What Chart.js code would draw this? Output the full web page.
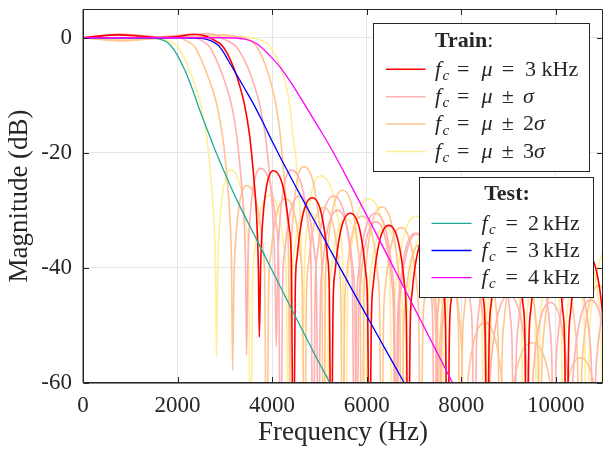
<!DOCTYPE html>
<html><head><meta charset="utf-8">
<script src="https://cdn.jsdelivr.net/npm/chart.js@4.4.1/dist/chart.umd.min.js"></script>
<style>html,body{margin:0;padding:0;background:#fff;}#wrap{width:603px;height:449px;position:relative;}</style>
</head><body><div id="wrap"><canvas id="c" width="603" height="449"></canvas></div>
<script>
// ---------- axis ticks ----------
const freqTicks = [0, 2000, 4000, 6000, 8000, 10000];
const freqTickLabels = ['0', '2000', '4000', '6000', '8000', '10000'];
const magTicks = [-60, -40, -20, 0];
const magTickLabels = ['-60', '-40', '-20', '0'];

// ---------- test filters [Hz, dB] ----------
const test2k = [[0,0],[1000,0],[1400,-0.05],[1600,-0.2],[1750,-0.6],[1850,-1.3],[1980,-2.8],[2100,-4.7],[2190,-6.3],[2330,-9.3],[2470,-12.6],[2610,-15.6],[2755,-18.7],[2900,-21.6],[3040,-24.3],[3180,-26.9],[3320,-29.3],[3600,-33.9],[3870,-38.3],[4200,-43.7],[4590,-50],[4900,-55],[5225,-60],[5400,-62.7]];
const test3k = [[0,0],[2000,0],[2500,-0.1],[2700,-0.5],[2860,-1.3],[2970,-2.5],[3070,-3.9],[3200,-5.7],[3320,-7.4],[3460,-9.4],[3600,-11.4],[3800,-14.6],[3990,-17.8],[4200,-21.2],[4450,-25.1],[4800,-30.4],[5225,-36.8],[5700,-43.9],[6000,-48.3],[6400,-54.2],[6770,-59.6],[6900,-61.5]];
const test4k = [[0,0],[3000,0],[3400,-0.2],[3670,-1.0],[3950,-3.1],[4170,-5.1],[4400,-7.8],[4600,-10.4],[4800,-13.1],[5000,-15.8],[5225,-18.9],[5400,-21.5],[5600,-24.6],[6074,-32],[6530,-39.3],[7200,-50],[7800,-59.7],[7900,-61.3]];

// ---------- train filters [Hz, dB] ----------
const trainMu = [[0,0],[300,0.25],[750,0.5],[1200,0.3],[1600,0.05],[1950,0.15],[2350,0.6],[2600,0.3],[2700,-0.1],[2966,-1.6],[3178,-5],[3320,-8.5],[3426,-12],[3525,-17],[3565,-20],[3620,-25],[3665,-30],[3710,-40],[3730,-52],
[3759,-39.2],[3789,-33.3],[3877,-26.1],[4025,-23.1],[4238,-26.1],[4365,-33.3],[4408,-39.2],[4450,-80],
[4490,-43.9],[4530,-38],[4650,-30.8],[4850,-27.8],[5050,-30.8],[5170,-38],[5210,-43.9],[5250,-80],
[5290,-46.6],[5331,-40.7],[5452,-33.5],[5655,-30.5],[5858,-33.5],[5979,-40.7],[6020,-46.6],[6060,-80],
[6101,-48.7],[6142,-42.8],[6265,-35.6],[6470,-32.6],[6675,-35.6],[6798,-42.8],[6839,-48.7],[6880,-80],
[6922,-50.1],[6963,-44.2],[7088,-37],[7295,-34],[7502,-37],[7627,-44.2],[7668,-50.1],[7710,-80],
[7752,-51.1],[7794,-45.2],[7920,-38],[8130,-35],[8340,-38],[8466,-45.2],[8508,-51.1],[8550,-80],
[8592,-52.1],[8634,-46.2],[8760,-39],[8970,-36],[9180,-39],[9306,-46.2],[9348,-52.1],[9390,-80],
[9432,-53.1],[9474,-47.2],[9600,-40],[9810,-37],[10020,-40],[10146,-47.2],[10188,-53.1],[10230,-80],
[10272,-53.6],[10314,-47.7],[10440,-40.5],[10650,-37.5],[10860,-40.5],[10986,-47.7],[11028,-53.6],[11070,-80]];

const trainMinus1 = [[0,0],[300,0.3],[750,0.6],[1200,0.35],[1550,0],[1800,0.2],[2150,0.5],[2350,0.2],[2420,-0.1],[2680,-1.6],[2880,-5],[3035,-8.5],[3150,-12],[3252,-17],[3293,-20],[3350,-25],[3395,-30],[3440,-40],[3460,-55.2],
[3489,-38.8],[3519,-32.9],[3607,-25.7],[3755,-22.7],[3968,-25.7],[4095,-32.9],[4138,-38.8],[4180,-80],
[4220,-43.6],[4260,-37.7],[4380,-30.5],[4580,-27.5],[4780,-30.5],[4900,-37.7],[4940,-43.6],[4980,-80],
[5020,-46.1],[5061,-40.2],[5182,-33],[5385,-30],[5588,-33],[5709,-40.2],[5750,-46.1],[5790,-80],
[5831,-48.1],[5872,-42.2],[5995,-35],[6200,-32],[6405,-35],[6528,-42.2],[6569,-48.1],[6610,-80],
[6652,-50.1],[6693,-44.2],[6818,-37],[7025,-34],[7232,-37],[7357,-44.2],[7398,-50.1],[7440,-80],
[7482,-52.1],[7524,-46.2],[7650,-39],[7860,-36],[8070,-39],[8196,-46.2],[8238,-52.1],[8280,-80],
[8322,-54.1],[8364,-48.2],[8490,-41],[8700,-38],[8910,-41],[9036,-48.2],[9078,-54.1],[9120,-80],
[9162,-56.1],[9204,-50.2],[9330,-43],[9540,-40],[9750,-43],[9876,-50.2],[9918,-56.1],[9960,-80],
[10002,-58.1],[10044,-52.2],[10170,-45],[10380,-42],[10590,-45],[10716,-52.2],[10758,-58.1],[10800,-80],
[10842,-60.1],[10884,-54.2],[11010,-47]];

const trainPlus1 = [[0,0],[330,0.3],[820,0.6],[1310,0.35],[1750,0.05],[2130,0.2],[2650,0.75],[2850,0.35],[2950,-0.1],[3245,-1.6],[3477,-5],[3632,-8.5],[3748,-12],[3856,-17],[3900,-20],[3960,-25],[4010,-30],[4059,-40],[4090,-53.6],
[4121,-39.1],[4153,-33.2],[4246,-26],[4403,-23],[4636,-26],[4775,-33.2],[4822,-39.1],[4868,-80],
[4912,-43.6],[4956,-37.7],[5087,-30.5],[5306,-27.5],[5525,-30.5],[5656,-37.7],[5700,-43.6],[5744,-80],
[5788,-46.6],[5833,-40.7],[5965,-33.5],[6187,-30.5],[6409,-33.5],[6541,-40.7],[6586,-46.6],[6630,-80],
[6675,-50.1],[6720,-44.2],[6854,-37],[7078,-34],[7302,-37],[7436,-44.2],[7481,-50.1],[7527,-80],
[7579,-54.1],[7630,-48.2],[7785,-41],[8043,-38],[8301,-41],[8456,-48.2],[8507,-54.1],[8560,-80],
[8605,-60.9],[8650,-55],[8785,-47.8],[9010,-44.8],[9235,-47.8],[9370,-55],[9415,-60.9],[9460,-80],
[9502,-62.1],[9545,-56.2],[9672,-49],[9885,-46],[10098,-49],[10225,-56.2],[10268,-62.1],[10310,-80],
[10353,-61.7],[10396,-55.8],[10525,-48.6],[10740,-45.6],[10955,-48.6],[11084,-55.8]];

const trainMinus2 = [[0,0],[350,-0.25],[800,-0.5],[1250,-0.25],[1600,0.05],[1850,0.3],[2050,0.1],[2150,-0.4],[2370,-1.6],[2560,-5],[2720,-8.5],[2840,-12],[2950,-17],[2996,-20],[3053,-25],[3098,-30],[3143,-40],[3165,-57.8],
[3194,-41.8],[3224,-35.9],[3312,-28.7],[3460,-25.7],[3673,-28.7],[3800,-35.9],[3843,-41.8],[3885,-80],
[3925,-44.1],[3965,-38.2],[4085,-31],[4285,-28],[4485,-31],[4605,-38.2],[4645,-44.1],[4685,-80],
[4725,-45.6],[4766,-39.7],[4887,-32.5],[5090,-29.5],[5293,-32.5],[5414,-39.7],[5455,-45.6],[5495,-80],
[5536,-47.1],[5577,-41.2],[5700,-34],[5905,-31],[6110,-34],[6233,-41.2],[6274,-47.1],[6315,-80],
[6357,-49.1],[6398,-43.2],[6523,-36],[6730,-33],[6937,-36],[7062,-43.2],[7103,-49.1],[7145,-80],
[7187,-51.1],[7229,-45.2],[7355,-38],[7565,-35],[7775,-38],[7901,-45.2],[7943,-51.1],[7985,-80],
[8027,-53.1],[8069,-47.2],[8195,-40],[8405,-37],[8615,-40],[8741,-47.2],[8783,-53.1],[8825,-80],
[8867,-55.1],[8909,-49.2],[9035,-42],[9245,-39],[9455,-42],[9581,-49.2],[9623,-55.1],[9665,-80],
[9707,-57.1],[9749,-51.2],[9875,-44],[10085,-41],[10295,-44],[10421,-51.2],[10463,-57.1],[10505,-80],
[10547,-59.1],[10589,-53.2],[10715,-46],[10925,-43],[11135,-46]];

const trainPlus2 = [[0,0],[350,-0.25],[850,-0.5],[1350,-0.25],[1800,0],[2300,0.15],[2950,0.5],[3250,0.2],[3450,-0.1],[3680,-1.6],[3870,-5],[3995,-8.5],[4090,-12],[4175,-17],[4210,-20],[4262,-25],[4305,-30],[4350,-40],[4370,-62],
[4399,-38.5],[4429,-32.6],[4517,-25.4],[4665,-22.4],[4878,-25.4],[5005,-32.6],[5048,-38.5],[5090,-80],
[5130,-42.6],[5171,-36.7],[5292,-29.5],[5495,-26.5],[5698,-29.5],[5819,-36.7],[5860,-42.6],[5900,-80],
[5942,-45.5],[5984,-39.6],[6110,-32.4],[6320,-29.4],[6530,-32.4],[6656,-39.6],[6698,-45.5],[6740,-80],
[6778,-52.1],[6816,-46.2],[6930,-39],[7120,-36],[7310,-39],[7424,-46.2],[7462,-52.1],[7500,-80],
[7527,-58.1],[7555,-52.2],[7637,-45],[7775,-42],[7913,-45],[7995,-52.2],[8023,-58.1],[8050,-80],
[8095,-65.6],[8140,-59.7],[8275,-52.5],[8500,-49.5],[8725,-52.5],[8860,-59.7],[8905,-65.6],[8950,-80],
[9005,-69.1],[9060,-63.2],[9225,-56],[9500,-53],[9775,-56],[9940,-63.2],[9995,-69.1],[10050,-80],
[10098,-71.7],[10145,-65.8],[10287,-58.6],[10525,-55.6],[10763,-58.6],[10905,-65.8],[10953,-71.7],[11000,-80]];

const trainMinus3 = [[0,0],[350,-0.2],[800,-0.4],[1250,-0.1],[1500,0.05],[1650,-0.05],[1800,-0.5],[2010,-1.6],[2220,-5],[2380,-8.5],[2500,-12],[2610,-17],[2655,-20],[2712,-25],[2757,-30],[2803,-40],[2825,-55.5],
[2854,-39.1],[2884,-33.2],[2972,-26],[3120,-23],[3333,-26],[3460,-33.2],[3503,-39.1],[3545,-80],
[3585,-43.5],[3625,-37.6],[3745,-30.4],[3945,-27.4],[4145,-30.4],[4265,-37.6],[4305,-43.5],[4345,-80],
[4385,-46.1],[4426,-40.2],[4547,-33],[4750,-30],[4953,-33],[5074,-40.2],[5115,-46.1],[5155,-80],
[5196,-47.6],[5237,-41.7],[5360,-34.5],[5565,-31.5],[5770,-34.5],[5893,-41.7],[5934,-47.6],[5975,-80],
[6017,-49.1],[6058,-43.2],[6183,-36],[6390,-33],[6597,-36],[6722,-43.2],[6763,-49.1],[6805,-80],
[6847,-50.1],[6889,-44.2],[7015,-37],[7225,-34],[7435,-37],[7561,-44.2],[7603,-50.1],[7645,-80],
[7687,-51.1],[7729,-45.2],[7855,-38],[8065,-35],[8275,-38],[8401,-45.2],[8443,-51.1],[8485,-80],
[8527,-52.1],[8569,-46.2],[8695,-39],[8905,-36],[9115,-39],[9241,-46.2],[9283,-52.1],[9325,-80],
[9367,-52.6],[9409,-46.7],[9535,-39.5],[9745,-36.5],[9955,-39.5],[10081,-46.7],[10123,-52.6],[10165,-80],
[10207,-53.1],[10249,-47.2],[10375,-40],[10585,-37],[10795,-40],[10921,-47.2],[10963,-53.1],[11005,-80]];

const trainPlus3 = [[0,0],[375,-0.2],[935,-0.35],[1500,-0.15],[2000,0.05],[2430,0.1],[2930,0.3],[3300,0.15],[3600,-0.1],[3900,-1],[4100,-3.5],[4200,-5.5],[4300,-8.5],[4380,-12],[4440,-17],[4490,-20],[4545,-25],[4590,-30],[4625,-40],[4650,-58.6],
[4687,-40.1],[4724,-34.2],[4834,-27],[5019,-24],[5284,-27],[5443,-34.2],[5496,-40.1],[5549,-80],
[5599,-44.1],[5649,-38.2],[5798,-31],[6048,-28],[6298,-31],[6447,-38.2],[6497,-44.1],[6547,-80],
[6597,-47.1],[6648,-41.2],[6799,-34],[7052,-31],[7305,-34],[7456,-41.2],[7507,-47.1],[7557,-80],
[7607,-49.1],[7658,-43.2],[7812,-36],[8068,-33],[8324,-36],[8478,-43.2],[8529,-49.1],[8580,-80],
[8631,-50.1],[8683,-44.2],[8838,-37],[9097,-34],[9356,-37],[9511,-44.2],[9563,-50.1],[9615,-80],
[9666,-51.1],[9719,-45.2],[9876,-38],[10138,-35],[10400,-38],[10557,-45.2],[10610,-51.1],[10662,-80],
[10714,-52.1],[10766,-46.2],[10920,-39],[11180,-36]];

// ---------- styles ----------
const RED = '#ff0000', PINK = '#ffb0b0', ORANGE = '#ffc690', YELLOW = '#ffef98';
const TEAL = '#20a99b', BLUE = '#0000ff', MAGENTA = '#ff00ff';
const AXIS = '#262626', GRID = '#e6e6e6';
const SERIF = '"Liberation Serif", "Times New Roman", serif';

const series = [
  {label:'μ+3σ', data:trainPlus3, color:YELLOW, w:1.6, order:9},
  {label:'μ-3σ', data:trainMinus3, color:YELLOW, w:1.6, order:9},
  {label:'μ+2σ', data:trainPlus2, color:ORANGE, w:1.6, order:8},
  {label:'μ-2σ', data:trainMinus2, color:ORANGE, w:1.6, order:8},
  {label:'μ+σ', data:trainPlus1, color:PINK, w:1.6, order:7},
  {label:'μ-σ', data:trainMinus1, color:PINK, w:1.6, order:7},
  {label:'μ', data:trainMu, color:RED, w:1.6, order:6},
  {label:'2 kHz', data:test2k, color:TEAL, w:1.3, order:3},
  {label:'3 kHz', data:test3k, color:BLUE, w:1.3, order:2},
  {label:'4 kHz', data:test4k, color:MAGENTA, w:1.3, order:1}
];

// legend contents: [text, style, dx]
const trainLegendTitle = 'Train';
const testLegendTitle = 'Test:';
const trainLegendRows = [
  {color:RED, w:1.6, parts:[['f','it',0],['c','sub',7.5],['=','rm',22],['μ','it',46.5],['=','rm',66.7],['3','rm',90],['kHz','rm',106.5]]},
  {color:PINK, w:1.6, parts:[['f','it',0],['c','sub',7.5],['=','rm',22],['μ','it',46.5],['±','rm',66.7],['σ','it',88]]},
  {color:ORANGE, w:1.6, parts:[['f','it',0],['c','sub',7.5],['=','rm',22],['μ','it',46.5],['±','rm',66.7],['2','rm',88],['σ','it',99]]},
  {color:YELLOW, w:1.6, parts:[['f','it',0],['c','sub',7.5],['=','rm',22],['μ','it',46.5],['±','rm',66.7],['3','rm',88],['σ','it',99]]}
];
const testLegendRows = [
  {color:TEAL, w:1.3, parts:[['f','it',0],['c','sub',7.5],['=','rm',24],['2','rm',46.6],['kHz','rm',61.6]]},
  {color:BLUE, w:1.3, parts:[['f','it',0],['c','sub',7.5],['=','rm',24],['3','rm',46.6],['kHz','rm',61.6]]},
  {color:MAGENTA, w:1.3, parts:[['f','it',0],['c','sub',7.5],['=','rm',24],['4','rm',46.6],['kHz','rm',61.6]]}
];

function fontFor(style){
  if (style === 'it') return 'italic 22px ' + SERIF;
  if (style === 'sub') return 'italic 15px ' + SERIF;
  if (style === 'bf') return 'bold 22px ' + SERIF;
  return '22px ' + SERIF;
}
function drawRow(ctx, x0, baseline, parts){
  ctx.fillStyle = AXIS;
  ctx.textAlign = 'left';
  ctx.textBaseline = 'alphabetic';
  for (const [t, s, dx] of parts){
    ctx.font = fontFor(s);
    ctx.fillText(t, x0 + dx, baseline + (s === 'sub' ? 4.5 : 0));
  }
}
function drawBox(ctx, x1, y1, x2, y2){
  ctx.fillStyle = '#ffffff';
  ctx.fillRect(x1, y1, x2 - x1, y2 - y1);
  ctx.strokeStyle = AXIS;
  ctx.lineWidth = 1;
  ctx.strokeRect(Math.round(x1) + 0.5, Math.round(y1) + 0.5, Math.round(x2 - x1), Math.round(y2 - y1));
}

const framePlugin = {
  id: 'frame',
  afterDatasetsDraw(chart){
    const ctx = chart.ctx, a = chart.chartArea;
    const xs = chart.scales.x, ys = chart.scales.y;
    ctx.save();
    ctx.strokeStyle = AXIS; ctx.lineWidth = 1;
    const L = Math.round(a.left) + 0.5, R = Math.round(a.right) - 0.5, T = Math.round(a.top) + 0.5, B = Math.round(a.bottom) - 0.5;
    ctx.beginPath();
    ctx.rect(L, T, R - L, B - T);
    const tl = 5.5;
    for (const v of freqTicks){
      const px = Math.round(xs.getPixelForValue(v)) + 0.5;
      ctx.moveTo(px, B); ctx.lineTo(px, B - tl);
      ctx.moveTo(px, T); ctx.lineTo(px, T + tl);
    }
    for (const v of magTicks){
      const py = Math.round(ys.getPixelForValue(v)) + 0.5;
      ctx.moveTo(L, py); ctx.lineTo(L + tl, py);
      ctx.moveTo(R, py); ctx.lineTo(R - tl, py);
    }
    ctx.stroke();
    ctx.beginPath(); ctx.lineWidth = 1.4; ctx.moveTo(L, B + 0.3); ctx.lineTo(R, B + 0.3); ctx.moveTo(L - 0.3, T); ctx.lineTo(L - 0.3, B); ctx.stroke();

    // Train legend
    drawBox(ctx, 373, 23, 589, 171);
    ctx.fillStyle = AXIS; ctx.textBaseline = 'alphabetic'; ctx.textAlign = 'left';
    ctx.font = fontFor('bf');
    ctx.fillText(trainLegendTitle, 435, 46.5);
    const tw = ctx.measureText(trainLegendTitle).width;
    ctx.font = fontFor('rm');
    ctx.fillText(':', 435 + tw, 46.5);
    const trainY = [69.3, 96.7, 124, 151.5];
    trainLegendRows.forEach((r, i) => {
      ctx.strokeStyle = r.color; ctx.lineWidth = r.w;
      ctx.beginPath(); ctx.moveTo(386, trainY[i]); ctx.lineTo(425.5, trainY[i]); ctx.stroke();
      drawRow(ctx, 435, trainY[i] + 6.2, r.parts);
    });
    // Test legend
    drawBox(ctx, 419, 177, 593, 297);
    ctx.fillStyle = AXIS; ctx.font = fontFor('bf'); ctx.textAlign = 'center';
    ctx.fillText(testLegendTitle, 507, 200);
    const testY = [223.3, 250.5, 277.7];
    testLegendRows.forEach((r, i) => {
      ctx.strokeStyle = r.color; ctx.lineWidth = r.w;
      ctx.beginPath(); ctx.moveTo(431.5, testY[i]); ctx.lineTo(471.5, testY[i]); ctx.stroke();
      drawRow(ctx, 481.5, testY[i] + 6.2, r.parts);
    });
    ctx.restore();
  }
};

function build(){
  const datasets = series.map(s => ({
    label: s.label,
    data: s.data.map(p => ({x: p[0], y: p[1]})),
    borderColor: s.color,
    backgroundColor: s.color,
    borderWidth: s.w,
    pointRadius: 0,
    fill: false,
    cubicInterpolationMode: 'monotone',
    order: s.order,
    clip: 0
  }));
  new Chart(document.getElementById('c'), {
    type: 'line',
    data: {datasets},
    options: {
      responsive: false, animation: false, devicePixelRatio: 1,
      events: [],
      layout: {padding: {top: 9, right: 0, left: 0, bottom: 0}},
      elements: {line: {capBezierPoints: false}},
      plugins: {legend: {display: false}, tooltip: {enabled: false}},
      scales: {
        x: {
          type: 'linear', min: 0, max: 11000,
          afterBuildTicks: s => { s.ticks = freqTicks.map(v => ({value: v})); },
          afterFit: s => { s.height = 66; s.paddingLeft = 0; s.paddingRight = 0; },
          grid: {color: GRID, lineWidth: 1, drawTicks: false},
          border: {display: false},
          ticks: {autoSkip: false, maxRotation: 0, padding: 9, color: AXIS,
            font: {family: SERIF, size: 23},
            callback: (v) => freqTickLabels[freqTicks.indexOf(v)]},
          title: {display: true, text: 'Frequency (Hz)', color: AXIS, font: {family: SERIF, size: 27}, padding: {top: 0, bottom: 0}}
        },
        y: {
          type: 'linear', min: -60, max: 5,
          afterBuildTicks: s => { s.ticks = magTicks.map(v => ({value: v})); },
          afterFit: s => { s.width = 83; s.paddingTop = 0; s.paddingBottom = 0; },
          grid: {color: GRID, lineWidth: 1, drawTicks: false},
          border: {display: false},
          ticks: {autoSkip: false, padding: 11, color: AXIS,
            font: {family: SERIF, size: 23},
            callback: (v) => magTickLabels[magTicks.indexOf(v)]},
          title: {display: true, text: 'Magnitude (dB)', color: AXIS, font: {family: SERIF, size: 27}, padding: {top: 4, bottom: 0}}
        }
      }
    },
    plugins: [framePlugin]
  });
}
const fontLoads = ['22px', 'italic 22px', 'bold 22px'].map(f => document.fonts.load(f + ' "Liberation Serif"'));
Promise.all(fontLoads).then(build, build);
</script></body></html>
